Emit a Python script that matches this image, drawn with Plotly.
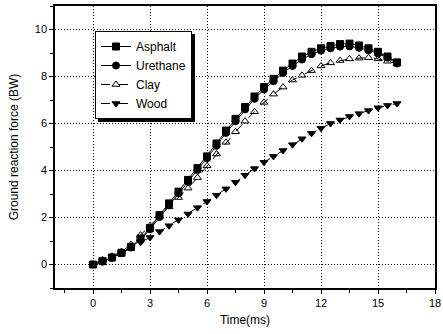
import plotly.graph_objects as go

time_ms = [0, 0.5, 1, 1.5, 2, 2.5, 3, 3.5, 4, 4.5, 5, 5.5, 6, 6.5, 7, 7.5, 8,
           8.5, 9, 9.5, 10, 10.5, 11, 11.5, 12, 12.5, 13, 13.5, 14, 14.5, 15, 15.5, 16]

asphalt = [0, 0.15, 0.3, 0.5, 0.75, 1.1, 1.55, 2.1, 2.6, 3.1, 3.6, 4.1, 4.6, 5.15, 5.7,
           6.2, 6.7, 7.15, 7.55, 7.9, 8.25, 8.55, 8.85, 9.05, 9.2, 9.3, 9.38, 9.4, 9.32,
           9.2, 9.05, 8.85, 8.6]
urethane = [0, 0.12, 0.28, 0.48, 0.72, 1.05, 1.5, 2.02, 2.52, 3.02, 3.52, 4.02, 4.52,
            5.05, 5.6, 6.1, 6.6, 7.05, 7.45, 7.8, 8.15, 8.45, 8.72, 8.95, 9.1, 9.2, 9.27,
            9.28, 9.22, 9.12, 8.98, 8.8, 8.55]
clay = [0, 0.2, 0.35, 0.55, 0.85, 1.25, 1.65, 2.05, 2.45, 2.85, 3.25, 3.7, 4.2, 4.7,
        5.2, 5.65, 6.1, 6.5, 6.9, 7.25, 7.55, 7.85, 8.05, 8.25, 8.45, 8.58, 8.68, 8.75,
        8.78, 8.8, 8.75, 8.65, 8.55]
wood = [0, 0.15, 0.3, 0.5, 0.75, 0.95, 1.15, 1.4, 1.65, 1.9, 2.15, 2.42, 2.68, 2.95,
        3.22, 3.5, 3.8, 4.08, 4.35, 4.6, 4.85, 5.1, 5.35, 5.58, 5.8, 6.0, 6.15, 6.3,
        6.42, 6.55, 6.67, 6.77, 6.85]

x_ticks = [0, 3, 6, 9, 12, 15, 18]
y_ticks = [0, 2, 4, 6, 8, 10]

series = [
    ("Asphalt", asphalt, "square", "solid"),
    ("Urethane", urethane, "circle", "solid"),
    ("Clay", clay, "triangle-up-open", "dash"),
    ("Wood", wood, "triangle-down", "dash"),
]

fig = go.Figure()
for name, vals, sym, dash in series:
    fig.add_trace(go.Scatter(
        x=time_ms, y=vals, name=name, mode="lines+markers",
        line=dict(color="black", width=1, dash=dash),
        marker=dict(symbol=sym, size=7, color="black", line=dict(color="black", width=1)),
    ))

axis_common = dict(
    showline=True, linecolor="black", linewidth=1.5, mirror=True,
    ticks="outside", ticklen=4, tickwidth=1.2, tickcolor="black",
    showgrid=True, gridcolor="black", gridwidth=1, griddash="1px,2px",
    zeroline=False, automargin=False,
    tickfont=dict(family="Arial", size=11, color="black"),
    title_font=dict(family="Arial", size=12, color="black"),
)

fig.update_xaxes(range=[-2, 18], tickvals=x_ticks, title_text="Time(ms)",
                 title_standoff=8,
                 minor=dict(ticks="outside", dtick=1.5, tick0=0, ticklen=3,
                            tickcolor="black", showgrid=False),
                 **axis_common)
fig.update_yaxes(range=[-1, 11], tickvals=y_ticks, title_text="Ground reaction force (BW)",
                 title_standoff=14,
                 minor=dict(ticks="outside", dtick=1, tick0=0, ticklen=3,
                            tickcolor="black", showgrid=False),
                 **axis_common)

W, H = 443, 334
ML, MR, MT, MB = 55, 8, 6, 46
pw, ph = W - ML - MR, H - MT - MB

fig.update_layout(
    width=W, height=H,
    margin=dict(l=ML, r=MR, t=MT, b=MB),
    paper_bgcolor="white", plot_bgcolor="white",
    font=dict(family="Arial", color="black"),
    legend=dict(x=(95 - ML) / pw, y=(H - MB - 31) / ph, xanchor="left", yanchor="top",
                bgcolor="white", bordercolor="black", borderwidth=1,
                font=dict(family="Arial", size=12, color="black"),
                tracegroupgap=0, itemwidth=30),
)

shadow_js = (
    "document.body.style.margin='0';document.body.style.overflow='hidden';"
    "var b=document.querySelector('.legend .bg');"
    "if(b){b.style.filter='drop-shadow(3px 3px 0 black)';}"
)
fig.write_html("out.html", config={"displayModeBar": False}, post_script=shadow_js)
